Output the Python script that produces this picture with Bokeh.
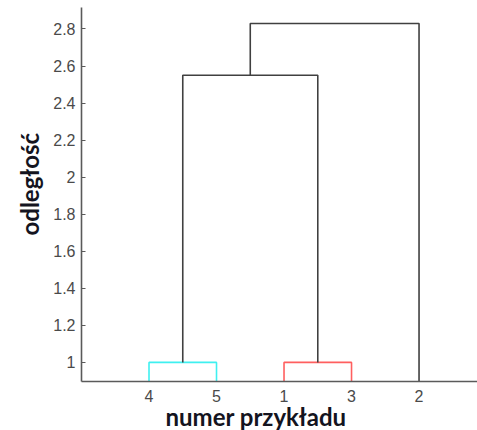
from bokeh.plotting import figure
from bokeh.models import FixedTicker, Range1d, NumeralTickFormatter, Title
from bokeh.embed import file_html
from bokeh.resources import INLINE

# leaves (MATLAB-style ids 1..5) in dendrogram display order
leaf_order = [4, 5, 1, 3, 2]
# linkage: cluster ids 6..9 are created in this order
link_a = [4, 1, 6, 8]
link_b = [5, 3, 7, 2]
link_height = [1.0, 1.0, 2.55, 2.83]
link_color = ["#3ff0f0", "#ff5f5f", "#404040", "#404040"]

y_ticks = [1.0, 1.2, 1.4, 1.6, 1.8, 2.0, 2.2, 2.4, 2.6, 2.8]
x_label = "numer przykładu"
y_label = "odległość"

# positions of nodes
n = len(leaf_order)
node_x = {leaf: i + 1 for i, leaf in enumerate(leaf_order)}
node_h = {leaf: 0.0 for leaf in leaf_order}
xs, ys = [], []
for k, (a, b, h) in enumerate(zip(link_a, link_b, link_height)):
    cid = n + 1 + k
    xs.append([node_x[a], node_x[a], node_x[b], node_x[b]])
    ys.append([node_h[a], h, h, node_h[b]])
    node_x[cid] = (node_x[a] + node_x[b]) / 2
    node_h[cid] = h

p = figure(width=477, height=430, output_backend="svg", toolbar_location=None,
           x_range=Range1d(0, 5.866), y_range=Range1d(0.897, 2.916),
           min_border_left=81, min_border_right=0, min_border_top=7, min_border_bottom=49)
p.outline_line_color = None
p.grid.visible = False
p.background_fill_color = "white"

p.multi_line(xs, ys, line_color=link_color, line_width=1.6)

for ax in (p.xaxis[0], p.yaxis[0]):
    ax.axis_line_color = "#5a5a5a"
    ax.axis_line_width = 1.6
    ax.major_tick_in = 4
    ax.major_tick_out = 0
    ax.minor_tick_line_color = None
    ax.major_tick_line_color = "#5a5a5a"
    ax.major_label_text_font = "Liberation Sans"
    ax.major_label_text_font_size = "16px"
    ax.major_label_text_color = "#4a4a4a"

p.yaxis.ticker = FixedTicker(ticks=y_ticks)
p.yaxis.formatter = NumeralTickFormatter(format="0.[0]")
p.yaxis.major_label_standoff = 6

p.xaxis.ticker = FixedTicker(ticks=[i + 1 for i in range(n)])
p.xaxis.major_label_overrides = {i + 1: str(leaf) for i, leaf in enumerate(leaf_order)}
p.xaxis.major_tick_line_color = None
p.xaxis.major_label_standoff = 8

title_style = dict(text_font="Lato", text_font_style="bold", text_font_size="24px",
                   text_color="#141420")
p.add_layout(Title(text=x_label, align="left", offset=84, standoff=-10, **title_style), "below")
p.add_layout(Title(text=y_label, align="left", offset=146, standoff=14, **title_style), "left")

open("out.html", "w").write(file_html(p, INLINE))
